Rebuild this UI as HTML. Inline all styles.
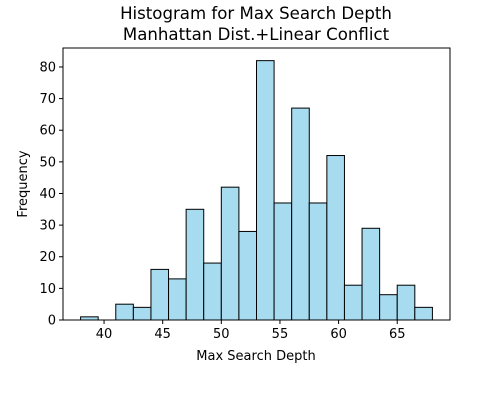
<!DOCTYPE html>
<html><head><meta charset="utf-8"><style>
body{margin:0;background:#fff;font-family:"Liberation Sans","DejaVu Sans",sans-serif;}
svg text{font-family:"DejaVu Sans","Liberation Sans",sans-serif;}
</style></head><body>
<svg id="chart" width="500" height="400" xmlns="http://www.w3.org/2000/svg">
<rect width="500" height="400" fill="#fff"/>
<text x="256" y="19" text-anchor="middle" font-size="16.6">Histogram for Max Search Depth</text>
<text x="256" y="40" text-anchor="middle" font-size="16.6">Manhattan Dist.+Linear Conflict</text>
<g id="bars"></g>
<g id="axes"></g>
<text x="256" y="360" text-anchor="middle" font-size="13">Max Search Depth</text>
<text transform="translate(27,184) rotate(-90)" text-anchor="middle" font-size="13">Frequency</text>
</svg>
<script>
const binStarts=[38,39.5,41,42.5,44,45.5,47,48.5,50,51.5,53,54.5,56,57.5,59,60.5,62,63.5,65,66.5];
const counts=[1,0,5,4,16,13,35,18,42,28,82,37,67,37,52,11,29,8,11,4];
const binWidth=1.5;
const xTicks=[40,45,50,55,60,65];
const yTicks=[0,10,20,30,40,50,60,70,80];
const L=63,R=450,T=48,B=320,xMin=36.5,xMax=69.5,yMax=86;
const xs=v=>L+(v-xMin)/(xMax-xMin)*(R-L);
const ys=v=>B-v/yMax*(B-T);
const NS="http://www.w3.org/2000/svg";
const bars=document.getElementById('bars'),axes=document.getElementById('axes');
binStarts.forEach((s,i)=>{
  if(counts[i]<=0)return;
  const r=document.createElementNS(NS,'rect');
  r.setAttribute('x',xs(s));r.setAttribute('width',xs(s+binWidth)-xs(s));
  r.setAttribute('y',ys(counts[i]));r.setAttribute('height',ys(0)-ys(counts[i]));
  r.setAttribute('fill','#a6dbf0');r.setAttribute('stroke','#000');r.setAttribute('stroke-width','1');
  
  
  bars.appendChild(r);
});
const frame=document.createElementNS(NS,'rect');
frame.setAttribute('x',L);frame.setAttribute('y',T);frame.setAttribute('width',R-L);frame.setAttribute('height',B-T);
frame.setAttribute('fill','none');frame.setAttribute('stroke','#000');


axes.appendChild(frame);
xTicks.forEach(t=>{
  const l=document.createElementNS(NS,'line');
  l.setAttribute('x1',xs(t));l.setAttribute('x2',xs(t));l.setAttribute('y1',B);l.setAttribute('y2',B+4);l.setAttribute('stroke','#000');
  
  
  axes.appendChild(l);
  const tx=document.createElementNS(NS,'text');
  tx.setAttribute('x',xs(t));tx.setAttribute('y',B+18);tx.setAttribute('text-anchor','middle');tx.setAttribute('font-size','13');tx.textContent=t;
  
  
  axes.appendChild(tx);
});
yTicks.forEach(t=>{
  const l=document.createElementNS(NS,'line');
  l.setAttribute('x1',L-4);l.setAttribute('x2',L);l.setAttribute('y1',ys(t));l.setAttribute('y2',ys(t));l.setAttribute('stroke','#000');
  
  
  axes.appendChild(l);
  const tx=document.createElementNS(NS,'text');
  tx.setAttribute('x',L-7);tx.setAttribute('y',ys(t)+4.5);tx.setAttribute('text-anchor','end');tx.setAttribute('font-size','13');tx.textContent=t;
  
  
  axes.appendChild(tx);
});
</script>
</body></html>
